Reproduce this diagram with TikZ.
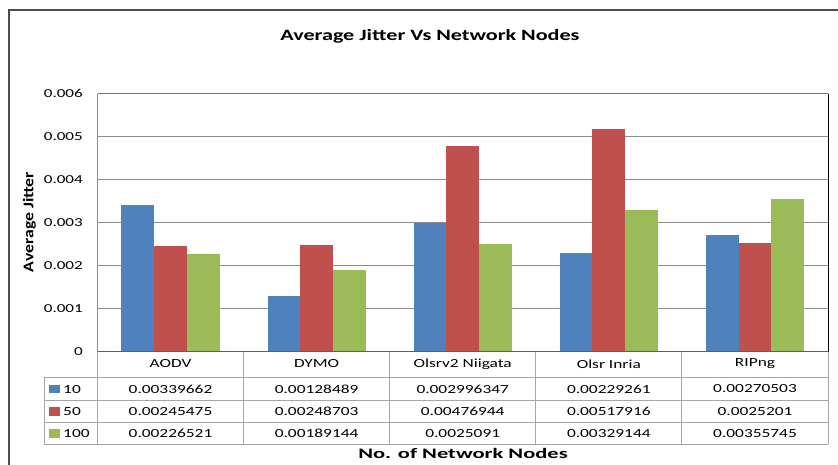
\documentclass[tikz,border=0pt]{standalone}
\usepackage{fontspec}
\setmainfont{Carlito}[FakeStretch=1.4]
\newfontfamily\ylabfont{Carlito}[FakeStretch=1.2]
\newfontfamily\xlabfont{Carlito}[FakeStretch=1.55]
\definecolor{sblue}{HTML}{4F81BD}
\definecolor{sred}{HTML}{C0504D}
\definecolor{sgreen}{HTML}{9BBB59}
\definecolor{gridc}{HTML}{8C8C8C}
\definecolor{tabc}{HTML}{A6A6A6}
\definecolor{framec}{HTML}{4D4D4D}
\tikzset{
  ticklab/.style={anchor=east, inner sep=0pt, font=\fontsize{12.2}{14}\selectfont},
  cell/.style={inner sep=0pt, font=\fontsize{12.4}{14}\selectfont},
  gridline/.style={gridc, line width=0.8pt},
  tabline/.style={tabc, line width=0.9pt},
}
\begin{document}
\begin{tikzpicture}[x=1pt,y=-1pt]
\useasboundingbox (0,0) rectangle (838,464);
\fill[white] (0,0) rectangle (838,464);

% outer chart frame
\draw[framec, line width=2pt] (9,470) -- (9,10) -- (845,10);

% title
\node[inner sep=0pt, font=\bfseries\fontsize{15.8}{18}\selectfont] (title) at (430,36) {Average Jitter Vs Network Nodes};

% grid lines and y tick labels
\foreach \k in {1,...,5} {
  \draw[gridline] (97.5,{351.5-\k*43}) -- (828,{351.5-\k*43});
  \node[ticklab] (yt\k) at (83,{351.5-\k*43}) {0.00\k};
}
\draw[framec!80, line width=1.4pt] (97.5,93.5) -- (828,93.5);
\node[ticklab] (yt6) at (83,93.5) {0.006};
\node[ticklab] (yt0) at (83,351.5) {0};
\draw[gridline] (97.5,93.5) -- (97.5,351.5);
\draw[black, line width=1pt] (828,93.5) -- (828,351.5);

% y axis title
\node[rotate=90, inner sep=0pt, font=\ylabfont\bfseries\fontsize{14.8}{16}\selectfont] (ylab) at (29.5,222) {Average Jitter};

% bars
\foreach \i/\a/\b/\c in {0/3.39662/2.45475/2.26521,
                         1/1.28489/2.48703/1.89144,
                         2/2.996347/4.76944/2.5091,
                         3/2.29261/5.17916/3.29144,
                         4/2.70503/2.5201/3.55745} {
  \pgfmathsetmacro\xl{97.5+\i*146.1+23.9}
  \fill[sblue]  (\xl,351.5) rectangle ++(32.7,{-\a*43});
  \fill[sred]   ({\xl+32.7},351.5) rectangle ++(32.7,{-\b*43});
  \fill[sgreen] ({\xl+65.4},351.5) rectangle ++(32.7,{-\c*43});
}

% zero axis
\draw[framec!90, line width=1.2pt] (97.5,351.5) -- (828,351.5);

% data table lines
\foreach \yy in {377,400,422.5,444} \draw[tabline] (44,\yy) -- (828,\yy);
\foreach \xx in {97.5,243.6,389.7,535.8,681.9,828} \draw[tabline] (\xx,351.5) -- (\xx,444);
\draw[tabline] (44,377) -- (44,444);

% category labels
\node[cell] (c0) at (170.5,364) {AODV};
\node[cell] (c1) at (316.6,364) {DYMO};
\node[cell] (c2) at (462.7,364) {Olsrv2 Niigata};
\node[cell] (c3) at (608.8,364) {Olsr Inria};
\node[cell] (c4) at (755,364) {RIPng};

% legend keys
\fill[sblue]  (49,384.5) rectangle (60,393);
\fill[sred]   (49,407) rectangle (60,415.5);
\fill[sgreen] (49,429) rectangle (60,437.5);
\node[cell, anchor=west] (l1) at (63,389.5) {10};
\node[cell, anchor=west] (l2) at (63,412) {50};
\node[cell, anchor=west] (l3) at (63,434) {100};

% values
\node[cell] (v10) at (170.5,389) {0.00339662};
\node[cell] (v11) at (316.6,389) {0.00128489};
\node[cell] (v12) at (462.7,389) {0.002996347};
\node[cell] (v13) at (608.8,389) {0.00229261};
\node[cell] (v14) at (755,389) {0.00270503};
\node[cell] (v20) at (170.5,411.5) {0.00245475};
\node[cell] (v21) at (316.6,411.5) {0.00248703};
\node[cell] (v22) at (462.7,411.5) {0.00476944};
\node[cell] (v23) at (608.8,411.5) {0.00517916};
\node[cell] (v24) at (755,411.5) {0.0025201};
\node[cell] (v30) at (170.5,433.5) {0.00226521};
\node[cell] (v31) at (316.6,433.5) {0.00189144};
\node[cell] (v32) at (462.7,433.5) {0.0025091};
\node[cell] (v33) at (608.8,433.5) {0.00329144};
\node[cell] (v34) at (755,433.5) {0.00355745};

% x axis title
\node[inner sep=0pt, font=\xlabfont\bfseries\fontsize{14.5}{16}\selectfont] (xlab) at (463,453) {No. of Network Nodes};
\end{tikzpicture}
\end{document}
